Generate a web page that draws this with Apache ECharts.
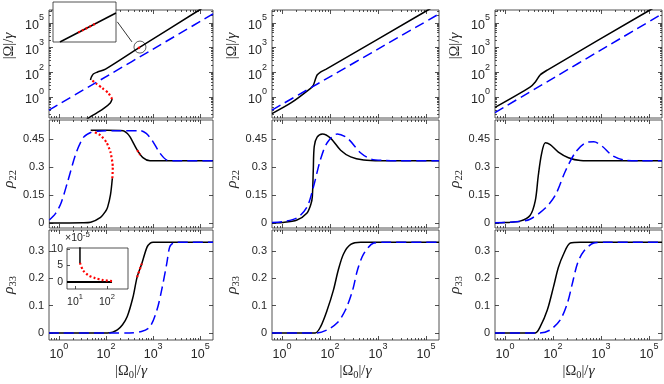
<!DOCTYPE html>
<html>
<head>
<meta charset="utf-8">
<script src="https://cdn.jsdelivr.net/npm/echarts@6/dist/echarts.min.js"></script>
<style>
html, body { margin: 0; padding: 0; background: #fff; }
#chart { width: 664px; height: 384px; }
</style>
</head>
<body>
<div id="chart"></div>
<script>
// x is in tick units: 0,1,2,3 sit at the labels 10^0,10^2,10^3,10^5
var xTickExp = ['0', '2', '3', '5'];
var yLogTickExp = ['0', '2', '3', '5'];
var rho22Ticks = [0, 0.15, 0.3, 0.45];
var rho33Ticks = [0, 0.1, 0.2, 0.3];

// column 1, |Omega|/gamma
var om1Low = [[0.5, -1.05], [0.63, -0.85], [0.80, -0.65], [0.96, -0.45], [1.09, -0.24], [1.13, -0.08]];
var om1Mid = [[1.13, -0.08], [1.05, 0.16], [0.92, 0.36], [0.80, 0.53], [0.69, 0.69]];
var om1High = [[0.67, 0.69], [0.69, 0.81], [0.73, 0.93], [0.82, 1.01], [0.99, 1.13], [1.72, 2.02], [2.98, 3.52], [3.27, 3.87]];
var om1HighDot = [[1.68, 1.97], [1.76, 2.07]];
var om1Dash = [[-0.21, -0.53], [3.27, 3.36]];
// column 1, rho22
var r22c1Low = [[-0.21, 0], [0.5, 0.001], [0.67, 0.004], [0.88, 0.03], [0.98, 0.06], [1.03, 0.085], [1.09, 0.15], [1.13, 0.24]];
var r22c1Mid = [[1.13, 0.24], [1.14, 0.30], [1.09, 0.38], [1.01, 0.43], [0.88, 0.47], [0.71, 0.492]];
var r22c1High = [[0.67, 0.497], [1.0, 0.497], [1.36, 0.495], [1.45, 0.48], [1.51, 0.46], [1.66, 0.39], [1.78, 0.35], [1.93, 0.333], [3.27, 0.333]];
var r22c1HighDot = [[1.66, 0.39], [1.72, 0.365]];
var r22c1Dash = [[-0.21, 0.016], [-0.08, 0.05], [0.04, 0.107], [0.19, 0.23], [0.36, 0.375], [0.52, 0.46], [0.67, 0.485], [0.82, 0.492], [1.3, 0.495], [1.72, 0.495], [1.85, 0.48], [1.97, 0.445], [2.14, 0.375], [2.29, 0.337], [2.45, 0.333], [3.27, 0.333]];
// column 1, rho33
var r33c1Solid = [[-0.21, 0], [1.03, 0], [1.14, 0.003], [1.24, 0.011], [1.35, 0.03], [1.45, 0.06], [1.57, 0.13], [1.66, 0.205], [1.76, 0.255], [1.87, 0.315], [1.94, 0.33], [2.0, 0.333], [3.27, 0.333]];
var r33c1Dot = [[1.66, 0.205], [1.76, 0.255]];
var r33c1Dash = [[-0.21, 0], [1.5, 0], [1.75, 0.005], [1.93, 0.022], [2.08, 0.084], [2.18, 0.157], [2.29, 0.256], [2.35, 0.315], [2.42, 0.33], [2.5, 0.333], [3.27, 0.333]];
// inset of rho33, x in log10, y in units of 1e-5
var insetHigh = [[1.156, 10.6], [1.156, 5.8]];
var insetMid = [[1.156, 5.8], [1.25, 3.6], [1.41, 2.1], [1.63, 1.2], [1.875, 0.6], [2.16, 0.3]];
var insetLow = [[0.75, 0], [2.16, 0]];
// zoom inset on the |Omega| panel
var zoomSolid = [[0.11, 0], [1, 0.725]];
var zoomDot = [[0.40, 0.236], [0.70, 0.48]];

// column 2
var om2Solid = [[-0.21, -0.67], [0.2, -0.22], [0.6, 0.36], [0.65, 0.47], [0.69, 0.69], [0.73, 0.89], [0.80, 1.01], [0.92, 1.13], [3.04, 3.52], [3.27, 3.78]];
var om2Dash = [[-0.21, -0.53], [3.27, 3.36]];
var r22c2Solid = [[-0.21, 0], [0.0, 0.002], [0.31, 0.016], [0.52, 0.054], [0.60, 0.1], [0.63, 0.14], [0.65, 0.28], [0.67, 0.41], [0.73, 0.46], [0.84, 0.477], [1.01, 0.455], [1.22, 0.39], [1.43, 0.354], [1.70, 0.337], [2.05, 0.333], [3.27, 0.333]];
var r22c2Dash = [[-0.21, 0.003], [0.0, 0.006], [0.31, 0.027], [0.52, 0.086], [0.65, 0.19], [0.80, 0.34], [0.94, 0.43], [1.15, 0.477], [1.36, 0.455], [1.64, 0.375], [1.85, 0.343], [2.12, 0.335], [2.4, 0.333], [3.27, 0.333]];
var r33c2Solid = [[-0.21, 0], [0.69, 0], [0.8, 0.022], [0.94, 0.084], [1.07, 0.157], [1.17, 0.23], [1.28, 0.29], [1.43, 0.325], [1.64, 0.333], [3.27, 0.333]];
var r33c2Dash = [[-0.21, 0], [0.73, 0], [0.94, 0.011], [1.15, 0.037], [1.32, 0.084], [1.47, 0.157], [1.57, 0.23], [1.70, 0.29], [1.91, 0.33], [2.16, 0.333], [3.27, 0.333]];

// column 3
var om3Solid = [[-0.21, -0.42], [0.52, 0.40], [0.63, 0.61], [0.73, 0.89], [0.88, 1.09], [3.02, 3.52], [3.27, 3.8]];
var om3Dash = [[-0.21, -0.63], [3.27, 3.36]];
var r22c3Solid = [[-0.21, 0], [0.0, 0.002], [0.31, 0.01], [0.52, 0.04], [0.63, 0.12], [0.69, 0.25], [0.76, 0.37], [0.84, 0.43], [0.94, 0.42], [1.11, 0.38], [1.32, 0.35], [1.57, 0.335], [1.9, 0.333], [3.27, 0.333]];
var r22c3Dash = [[-0.21, 0.001], [0.3, 0.008], [0.52, 0.02], [0.84, 0.08], [1.05, 0.15], [1.26, 0.28], [1.47, 0.38], [1.68, 0.43], [1.85, 0.435], [2.03, 0.41], [2.24, 0.36], [2.51, 0.336], [2.8, 0.333], [3.27, 0.333]];
var r33c3Solid = [[-0.21, 0], [0.63, 0], [0.73, 0.022], [0.88, 0.084], [1.01, 0.17], [1.11, 0.24], [1.22, 0.29], [1.36, 0.33], [1.57, 0.333], [3.27, 0.333]];
var r33c3Dash = [[-0.21, 0], [0.73, 0], [0.94, 0.011], [1.15, 0.048], [1.3, 0.11], [1.4, 0.18], [1.51, 0.256], [1.64, 0.30], [1.85, 0.33], [2.1, 0.333], [3.27, 0.333]];

var AX = '#262626';
var SANS = 'Liberation Sans, Arial, sans-serif';
var SERIF = 'Liberation Serif, DejaVu Serif, serif';
var X_MIN = -0.21, X_MAX = 3.27;

var colLeft = [48, 272, 495], colWidth = [165, 167, 167];
var rowTop = [10, 120, 230], rowHeight = [108, 108, 110];

// namePad shifts the rotated axis title along the axis
var rows = [
    {min: -0.85, max: 3.52, ticks: [0, 1, 2, 3], log: true, name: '{n||Ω|/}{i|γ}', namePad: [0, 0, 0, 36]},
    {min: -0.027, max: 0.552, ticks: rho22Ticks, name: '{i|ρ}{sub|22}', namePad: [0, 10, 0, 0]},
    {min: -0.026, max: 0.378, ticks: rho33Ticks, name: '{i|ρ}{sub|33}', namePad: [0, 0, 0, 0]}
];

function minorTicks(lo, hi) {
    var out = [];
    for (var n = Math.floor(lo); n <= Math.ceil(hi); n++)
        for (var k = 2; k <= 9; k++) {
            var t = n + Math.log10(k);
            if (t > lo && t < hi) out.push(t);
        }
    return out;
}
var xMinor = minorTicks(X_MIN, X_MAX);

var supRich = {
    b: {fontSize: 12.5, fontFamily: SANS, color: AX, lineHeight: 19, verticalAlign: 'bottom'},
    s: {fontSize: 9, fontFamily: SANS, color: AX, lineHeight: 10, verticalAlign: 'top'}
};
var nameRich = {
    n: {fontSize: 14.5, fontFamily: SERIF, color: AX, lineHeight: 20, verticalAlign: 'middle'},
    i: {fontSize: 15.5, fontFamily: SERIF, fontStyle: 'italic', color: AX, lineHeight: 20, verticalAlign: 'middle'},
    sub: {fontSize: 10.5, fontFamily: SERIF, color: AX, lineHeight: 20, verticalAlign: 'bottom'}
};

var grids = [], xAxes = [], yAxes = [], series = [];

function tickAxis(base, pos, values, len) {
    return Object.assign({
        type: 'value', position: pos,
        axisLine: {show: false, onZero: false},
        axisTick: {show: true, inside: true, length: len, customValues: values, lineStyle: {color: AX, width: 0.8}},
        axisLabel: {show: false},
        splitLine: {show: false}
    }, base);
}

var mainX = [], mainY = [];
for (var r = 0; r < 3; r++) {
    for (var c = 0; c < 3; c++) {
        var g = grids.length;
        grids.push({left: colLeft[c], top: rowTop[r], width: colWidth[c], height: rowHeight[r],
            show: true, borderColor: AX, borderWidth: 0.8, backgroundColor: 'transparent', containLabel: false});
        var xb = {gridIndex: g, min: X_MIN, max: X_MAX};
        var bottomX = tickAxis(xb, 'bottom', [0, 1, 2, 3], 4);
        if (r === 2) {
            bottomX.axisLabel = {show: true, customValues: [0, 1, 2, 3], margin: 2, rich: supRich,
                formatter: function (v) { return '{b|10}{s|' + xTickExp[Math.round(v)] + '}'; }};
            bottomX.name = '{n||Ω}{sub|0}{n||/}{i|γ}';
            bottomX.nameLocation = 'middle';
            bottomX.nameGap = 21;
            bottomX.nameTextStyle = {rich: nameRich};
        }
        mainX.push(xAxes.length);
        xAxes.push(bottomX);
        xAxes.push(tickAxis(xb, 'top', [0, 1, 2, 3], 4));
        xAxes.push(tickAxis(xb, 'bottom', xMinor, 2));
        xAxes.push(tickAxis(xb, 'top', xMinor, 2));

        var row = rows[r];
        var yb = {gridIndex: g, min: row.min, max: row.max};
        var leftY = tickAxis(yb, 'left', row.ticks, 4);
        leftY.axisLabel = {show: true, customValues: row.ticks, margin: 5,
            fontSize: 11, fontFamily: SANS, color: AX,
            rich: supRich,
            formatter: row.log
                ? function (v) { return '{b|10}{s|' + yLogTickExp[Math.round(v)] + '}'; }
                : function (v) { return String(v); }};
        leftY.name = row.name;
        leftY.nameLocation = 'middle';
        leftY.nameGap = 30;
        leftY.nameRotate = 90;
        leftY.nameTextStyle = {rich: nameRich, padding: row.namePad};
        mainY.push(yAxes.length);
        yAxes.push(leftY);
        yAxes.push(tickAxis(yb, 'right', row.ticks, 4));
        if (row.log) {
            var yMinor = minorTicks(row.min, row.max);
            yAxes.push(tickAxis(yb, 'left', yMinor, 2));
            yAxes.push(tickAxis(yb, 'right', yMinor, 2));
        }
    }
}

function solid(g, data, extra) {
    return Object.assign({type: 'line', xAxisIndex: mainX[g], yAxisIndex: mainY[g], data: data,
        showSymbol: false, symbol: 'none', smooth: 0.3, z: 3,
        lineStyle: {color: '#000', width: 1.5}}, extra || {});
}
function dashed(g, data) {
    return solid(g, data, {z: 4, lineStyle: {color: '#0000ff', width: 1.5, type: [10, 5]}});
}
function dotted(g, data) {
    return solid(g, data, {z: 5, smooth: 0.2, lineStyle: {color: '#ff0000', width: 2.2, type: [2, 2.2]}});
}

series.push(solid(0, om1Low), dotted(0, om1Mid), solid(0, om1High), dotted(0, om1HighDot), dashed(0, om1Dash));
series.push(solid(1, om2Solid), dashed(1, om2Dash));
series.push(solid(2, om3Solid), dashed(2, om3Dash));
series.push(solid(3, r22c1Low), dotted(3, r22c1Mid), solid(3, r22c1High), dotted(3, r22c1HighDot), dashed(3, r22c1Dash));
series.push(solid(4, r22c2Solid), dashed(4, r22c2Dash));
series.push(solid(5, r22c3Solid), dashed(5, r22c3Dash));
series.push(solid(6, r33c1Solid), dotted(6, r33c1Dot), dashed(6, r33c1Dash));
series.push(solid(7, r33c2Solid), dashed(7, r33c2Dash));
series.push(solid(8, r33c3Solid), dashed(8, r33c3Dash));

// circle + arrow marking the zoomed region
series.push({type: 'scatter', xAxisIndex: mainX[0], yAxisIndex: mainY[0], data: [[1.72, 2.02]],
    symbol: 'circle', symbolSize: 12, z: 6, silent: true,
    itemStyle: {color: 'rgba(0,0,0,0)', borderColor: '#000', borderWidth: 0.8},
    markLine: {silent: true, symbol: ['none', 'arrow'], symbolSize: [0, 7], animation: false,
        label: {show: false}, lineStyle: {color: '#000', width: 0.8, type: 'solid'},
        data: [[{coord: [1.24, 3.04]}, {coord: [1.55, 2.23]}]]}});

// zoom inset (top-left)
var gz = grids.length;
grids.push({left: 53, top: 2, width: 63, height: 40, show: true, borderColor: AX, borderWidth: 0.8,
    backgroundColor: '#fff', z: 5});
var zx = xAxes.length, zy = yAxes.length;
xAxes.push({type: 'value', gridIndex: gz, min: 0, max: 1, axisLine: {show: false}, axisTick: {show: false}, axisLabel: {show: false}, splitLine: {show: false}});
yAxes.push({type: 'value', gridIndex: gz, min: 0, max: 1, axisLine: {show: false}, axisTick: {show: false}, axisLabel: {show: false}, splitLine: {show: false}});
series.push({type: 'line', xAxisIndex: zx, yAxisIndex: zy, data: zoomSolid, symbol: 'none', z: 7,
    lineStyle: {color: '#000', width: 1.5}});
series.push({type: 'line', xAxisIndex: zx, yAxisIndex: zy, data: zoomDot, symbol: 'none', z: 8,
    lineStyle: {color: '#ff0000', width: 2.2, type: [2, 2.2]}});

// rho33 inset
var gi = grids.length;
grids.push({left: 67, top: 248, width: 61, height: 41, show: true, borderColor: AX, borderWidth: 0.8,
    backgroundColor: '#fff', z: 5});
var ix = xAxes.length, iy = yAxes.length;
var smallRich = {
    b: {fontSize: 10.5, fontFamily: SANS, color: AX, lineHeight: 15, verticalAlign: 'bottom'},
    s: {fontSize: 7.5, fontFamily: SANS, color: AX, lineHeight: 8, verticalAlign: 'top'}
};
xAxes.push({type: 'value', gridIndex: gi, min: 0.75, max: 2.66, z: 6, axisLine: {show: false, onZero: false},
    axisTick: {show: true, inside: true, length: 3, customValues: [1, 2], lineStyle: {color: AX, width: 0.8}},
    axisLabel: {show: true, customValues: [1, 2], margin: 4, rich: smallRich,
        formatter: function (v) { return '{b|10}{s|' + v + '}'; }},
    splitLine: {show: false}});
yAxes.push({type: 'value', gridIndex: gi, min: -2.1, max: 10.3, z: 6, axisLine: {show: false, onZero: false},
    axisTick: {show: true, inside: true, length: 3, customValues: [0, 5, 10], lineStyle: {color: AX, width: 0.8}},
    axisLabel: {show: true, customValues: [0, 5, 10], margin: 4, fontSize: 10.5, fontFamily: SANS, color: AX},
    name: '{x|×10}{s|-5}', nameLocation: 'end', nameGap: 1,
    nameTextStyle: {align: 'left', padding: [0, 0, 0, -2], rich: {x: {fontSize: 10.5, fontFamily: SANS, color: AX, lineHeight: 13, verticalAlign: 'bottom'}, s: {fontSize: 8, fontFamily: SANS, color: AX, lineHeight: 13, verticalAlign: 'top'}}},
    splitLine: {show: false}});
series.push({type: 'line', xAxisIndex: ix, yAxisIndex: iy, data: insetLow, symbol: 'none', z: 7,
    lineStyle: {color: '#000', width: 2}});
series.push({type: 'line', xAxisIndex: ix, yAxisIndex: iy, data: insetHigh, symbol: 'none', z: 7,
    lineStyle: {color: '#000', width: 1.5}});
series.push({type: 'line', xAxisIndex: ix, yAxisIndex: iy, data: insetMid, symbol: 'none', smooth: 0.3, z: 8,
    lineStyle: {color: '#ff0000', width: 2.2, type: [2, 2.2]}});

var chart = echarts.init(document.getElementById('chart'));
chart.setOption({
    animation: false,
    backgroundColor: '#fff',
    grid: grids,
    xAxis: xAxes,
    yAxis: yAxes,
    series: series
});
</script>
</body>
</html>
